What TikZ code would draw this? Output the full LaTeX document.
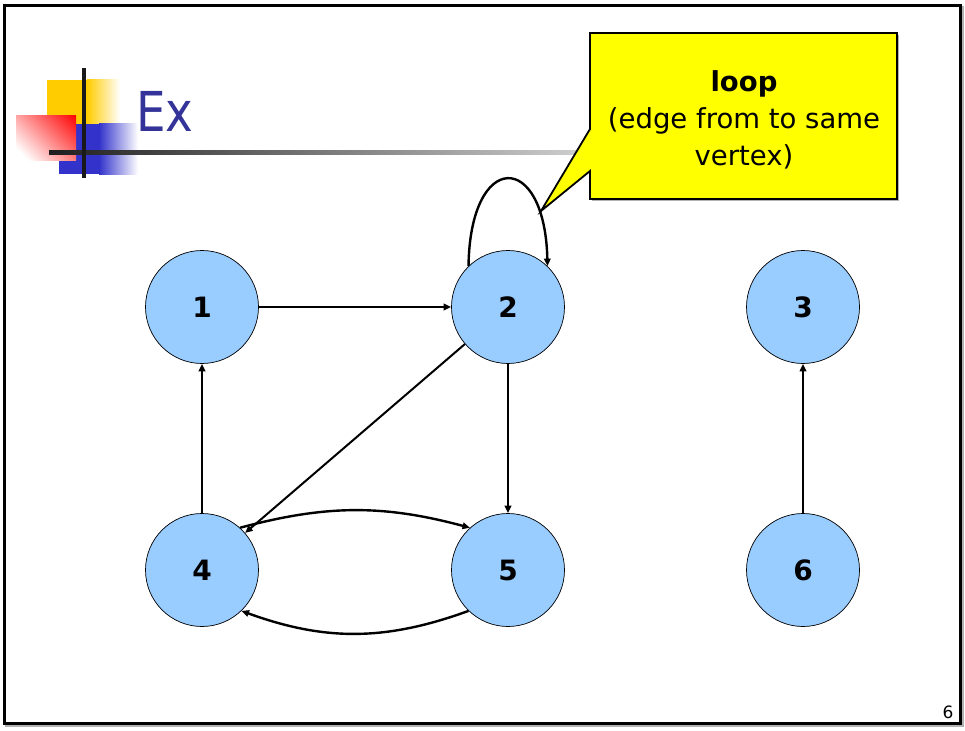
\documentclass[tikz,border=0pt]{standalone}
\usepackage{fontspec}
\setmainfont{DejaVu Sans}
\usetikzlibrary{arrows.meta}
\definecolor{nodeblue}{HTML}{99CCFF}
\definecolor{titleblue}{HTML}{333399}
\definecolor{logoyellow}{HTML}{FFCC00}
\definecolor{logoblue}{HTML}{3333CC}
\definecolor{logored}{HTML}{FF0000}
\definecolor{calloutyellow}{HTML}{FFFF00}
% white-to-red ramp used diagonally on the red square
\pgfdeclarehorizontalshading{redfade}{76bp}{color(0bp)=(white); color(10bp)=(white); color(76bp)=(logored)}

\begin{document}
\begin{tikzpicture}[x=1pt,y=-1pt,
  vertex/.style={circle, draw=black, line width=0.7pt, fill=nodeblue,
    minimum size=113pt, inner sep=0pt,
    font=\fontsize{28}{28}\selectfont\bfseries},
  edge/.style={line width=2pt, -{Triangle[length=7.5pt,width=6.5pt]}},
  curved/.style={edge, line width=2.4pt},
  frameline/.style={line width=3pt},
]
\useasboundingbox (0,0) rectangle (965,730);

% slide frame with a soft shadow
\draw[frameline, black!30] (6.5,8) rectangle (962.5,725);
\draw[frameline, fill=white] (4.5,6) rectangle (960.5,723);

% title decoration: coloured squares
\fill[logoyellow] (47,80) rectangle (87,124);
\shade[left color=logoyellow, right color=white] (87,80) rectangle (120,124);
\fill[logoblue] (59,124) rectangle (99,174);
\shade[left color=logoblue, right color=white] (99,124) rectangle (138,174);
\begin{scope}
  \clip (16,116) rectangle (76,161);
  \node[rotate=45, inner sep=0pt] (redsquare) at (46,138.5) {\pgfuseshading{redfade}};
\end{scope}

% title rule and cross bar
\shade[left color=black!88, right color=black!18] (49,151) rectangle (590,155);
\fill[black!90] (82,68) rectangle (86,178);

\node[anchor=base west, text=titleblue, inner sep=0pt,
  font=\fontsize{55}{55}\selectfont] (title) at (136,132) {\scalebox{0.85}[1]{Ex}};

% vertices
\node[vertex] (n1) at (202,307) {1};
\node[vertex] (n2) at (508,307) {2};
\node[vertex] (n3) at (803,307) {3};
\node[vertex] (n4) at (202,570) {4};
\node[vertex] (n5) at (508,570) {5};
\node[vertex] (n6) at (803,570) {6};

% edges
\draw[edge] (n1) -- (n2);
\draw[edge] (n2) -- (n4);
\draw[edge] (n2) -- (n5);
\draw[edge] (n4) -- (n1);
\draw[edge] (n6) -- (n3);
\draw[curved] (n4.48) to[bend left=15] (n5.132);
\draw[curved] (n5.226) to[bend left=20] (n4.314);
\draw[curved] (n2.134) .. controls (470,150) and (545,150) .. (n2.46);

% callout explaining the loop
\fill[black!30] (592,35) -- (899,35) -- (899,201) -- (592,201) -- cycle;
\draw[line width=1.8pt, fill=calloutyellow, line join=miter]
  (590,33) -- (897,33) -- (897,199) -- (590,199) -- (590,171)
  -- (541,211) -- (590,129) -- cycle;
\node[align=center, inner sep=0pt, font=\fontsize{27.5}{37}\selectfont]
  (calltext) at (744,120) {\textbf{loop}\\(edge from to same\\vertex)};

% page number
\node[font=\fontsize{17}{17}\selectfont, inner sep=0pt] (pagenum) at (948,712) {6};
\end{tikzpicture}
\end{document}
